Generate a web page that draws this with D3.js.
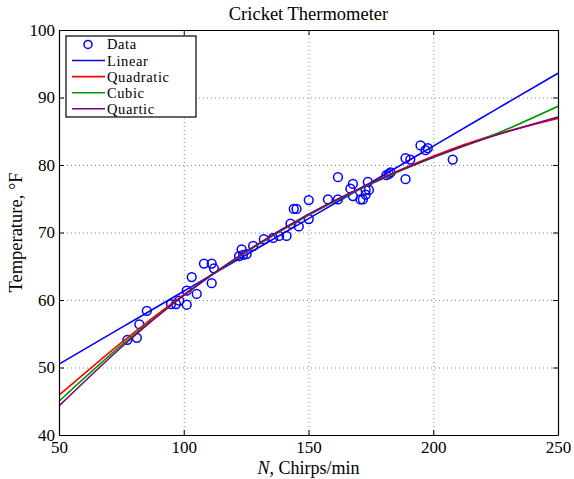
<!DOCTYPE html>
<html>
<head>
<meta charset="utf-8">
<script src="https://cdn.jsdelivr.net/npm/d3@7"></script>
<style>
  body { margin: 0; background: #fff; }
  svg text { font-family: "Liberation Serif", "DejaVu Serif", serif; fill: #000; }
</style>
</head>
<body>
<div id="chart"></div>
<script>
// Measured data: chirps per minute vs temperature
const chirps = [77.4, 81.2, 82.2, 85.2, 94.9, 96.9, 98.2, 101.2, 101.2, 103.2, 105.2, 108.1, 111.2, 111.2, 112.1,
    122.2, 123.2, 123.8, 125.2, 127.8, 132.1, 135.8, 138.2, 141.2, 142.8, 144.1, 145.2, 146.1, 150.1, 150.1,
    157.8, 161.8, 161.8, 166.8, 167.8, 167.8, 170.8, 171.8, 172.9, 172.9, 174.2, 173.8, 181.2, 182.2, 182.9,
    188.9, 188.9, 190.8, 194.9, 196.9, 197.8, 207.8];
const temps = [54.1, 54.4, 56.4, 58.4, 59.4, 59.4, 59.9, 59.3, 61.4, 63.4, 60.9, 65.4, 62.5, 65.4, 64.7,
    66.5, 67.5, 66.7, 66.8, 68.0, 69.0, 69.2, 69.5, 69.5, 71.3, 73.5, 73.5, 70.9, 72.0, 74.8,
    74.9, 74.9, 78.2, 76.5, 77.2, 75.4, 74.9, 74.9, 75.6, 76.3, 76.3, 77.5, 78.5, 78.7, 78.9,
    81.0, 77.9, 80.8, 82.9, 82.2, 82.5, 80.8];

// Fitted curves
const fitN = [50, 75, 100, 125, 150, 175, 200, 225, 250];
const linearT = [50.5, 55.9, 61.3, 66.7, 72.05, 77.4, 82.8, 88.2, 93.6];
const quadraticT = [45.9, 53.7, 60.8, 67.1, 72.6, 77.3, 81.3, 84.5, 86.9];
const cubicT = [45.0, 53.3, 60.7, 67.1, 72.6, 77.2, 81.1, 84.6, 88.7];
const quarticT = [44.3, 53.0, 60.7, 67.2, 72.7, 77.3, 81.2, 84.4, 87.1];

const xTicks = [50, 100, 150, 200, 250];
const yTicks = [40, 50, 60, 70, 80, 90, 100];

const fits = [
    {name: "Linear", values: linearT, color: "#0000ff"},
    {name: "Quadratic", values: quadraticT, color: "#ff0000"},
    {name: "Cubic", values: cubicT, color: "#009900"},
    {name: "Quartic", values: quarticT, color: "#800080"}
];

const W = 574, H = 479;
const margin = {top: 30, right: 16, bottom: 44, left: 59};
const width = W - margin.left - margin.right,
    height = H - margin.top - margin.bottom;

const svg = d3.select("#chart")
  .append("svg")
    .attr("width", W)
    .attr("height", H);

const g = svg.append("g")
    .attr("transform", `translate(${margin.left},${margin.top})`);

const x = d3.scaleLinear().domain([50, 250]).range([0, width]);
const y = d3.scaleLinear().domain([40, 100]).range([height, 0]);

// Dotted grid lines at the inner ticks
g.append("g")
    .attr("transform", `translate(0,${height})`)
    .call(d3.axisBottom(x).tickValues(xTicks.slice(1, -1)).tickSize(-height).tickFormat(""))
    .call(s => s.select(".domain").remove())
    .selectAll("line")
      .attr("stroke", "#888")
      .attr("stroke-dasharray", "1,3");

g.append("g")
    .call(d3.axisLeft(y).tickValues(yTicks.slice(1, -1)).tickSize(-width).tickFormat(""))
    .call(s => s.select(".domain").remove())
    .selectAll("line")
      .attr("stroke", "#888")
      .attr("stroke-dasharray", "1,3");

// Data markers
g.append("g")
  .selectAll("circle")
  .data(chirps.map((n, i) => [n, temps[i]]))
  .join("circle")
    .attr("cx", d => x(d[0]))
    .attr("cy", d => y(d[1]))
    .attr("r", 4.4)
    .attr("fill", "none")
    .attr("stroke", "#0000ff")
    .attr("stroke-width", 1.5);

// Fit curves
const line = d3.line()
    .x((d, i) => x(fitN[i]))
    .y(d => y(d))
    .curve(d3.curveNatural);

g.append("defs").append("clipPath").attr("id", "clip")
  .append("rect").attr("width", width).attr("height", height);

fits.forEach(f => {
    g.append("path")
        .datum(f.values)
        .attr("clip-path", "url(#clip)")
        .attr("fill", "none")
        .attr("stroke", f.color)
        .attr("stroke-width", 1.6)
        .attr("d", line);
});

// Axes with inward ticks on all four sides
const styleAxis = s => {
    s.select(".domain").attr("stroke", "#000").attr("stroke-width", 1.2);
    s.selectAll(".tick line").attr("stroke", "#000");
    s.selectAll("text").style("font-size", "17px").attr("fill", "#000");
};

g.append("g")
    .attr("transform", `translate(0,${height})`)
    .call(d3.axisBottom(x).tickValues(xTicks).tickSizeInner(-5).tickSizeOuter(0).tickPadding(6))
    .call(styleAxis);

g.append("g")
    .call(d3.axisTop(x).tickValues(xTicks).tickSizeInner(-5).tickSizeOuter(0).tickFormat(""))
    .call(styleAxis);

g.append("g")
    .call(d3.axisLeft(y).tickValues(yTicks).tickSizeInner(-5).tickSizeOuter(0).tickPadding(4))
    .call(styleAxis);

g.append("g")
    .attr("transform", `translate(${width},0)`)
    .call(d3.axisRight(y).tickValues(yTicks).tickSizeInner(-5).tickSizeOuter(0).tickFormat(""))
    .call(styleAxis);

// Title and axis labels
svg.append("text")
    .attr("x", margin.left + width / 2)
    .attr("y", 20)
    .attr("text-anchor", "middle")
    .style("font-size", "18.5px")
    .text("Cricket Thermometer");

const xLabel = svg.append("text")
    .attr("x", margin.left + width / 2)
    .attr("y", 474)
    .attr("text-anchor", "middle")
    .style("font-size", "18px");
xLabel.append("tspan").style("font-style", "italic").text("N");
xLabel.append("tspan").text(", Chirps/min");

svg.append("text")
    .attr("transform", `translate(22,${margin.top + height / 2}) rotate(-90)`)
    .attr("text-anchor", "middle")
    .style("font-size", "18.5px")
    .text("Temperature, °F");

// Legend
const legend = svg.append("g").attr("transform", "translate(66,36)");
legend.append("rect")
    .attr("width", 130)
    .attr("height", 81)
    .attr("fill", "#fff")
    .attr("stroke", "#000")
    .attr("stroke-width", 1.2);

const rowY = i => 8.4 + i * 16.1;
legend.append("circle")
    .attr("cx", 22)
    .attr("cy", rowY(0))
    .attr("r", 4)
    .attr("fill", "none")
    .attr("stroke", "#0000ff")
    .attr("stroke-width", 1.5);
legend.append("text")
    .attr("x", 41)
    .attr("y", rowY(0))
    .attr("dy", "0.35em")
    .style("font-size", "14.5px")
    .style("letter-spacing", "0.6px")
    .text("Data");

fits.forEach((f, i) => {
    legend.append("line")
        .attr("x1", 6)
        .attr("x2", 39)
        .attr("y1", rowY(i + 1))
        .attr("y2", rowY(i + 1))
        .attr("stroke", f.color)
        .attr("stroke-width", 1.6);
    legend.append("text")
        .attr("x", 41)
        .attr("y", rowY(i + 1))
        .attr("dy", "0.35em")
        .style("font-size", "14.5px")
        .style("letter-spacing", "0.6px")
        .text(f.name);
});
</script>
</body>
</html>
